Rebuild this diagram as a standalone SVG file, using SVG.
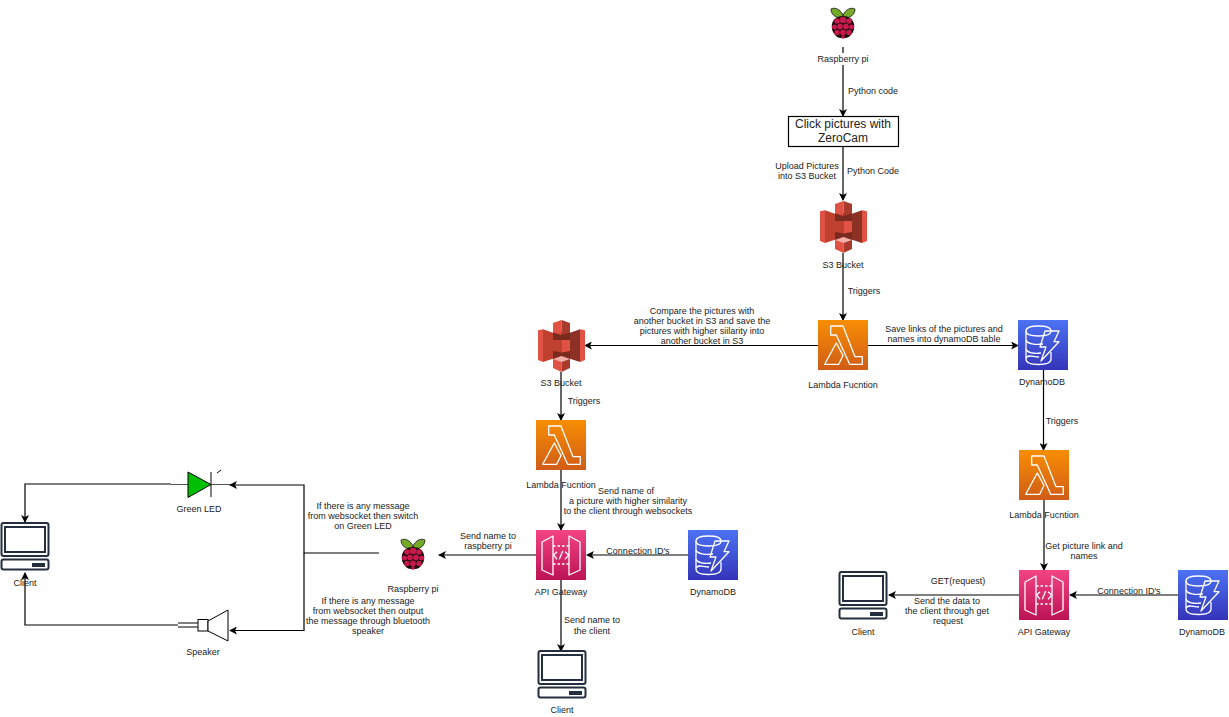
<svg xmlns="http://www.w3.org/2000/svg" width="1229" height="717" viewBox="0 0 1229 717">
<style>
text{font-family:"Liberation Sans",Arial,sans-serif;font-size:9px;fill:#222;text-anchor:middle}
.c{fill:none;stroke:#000;stroke-width:1.2}
.w{fill:none;stroke:#fff;stroke-width:1.3;stroke-linejoin:round}
.bg{fill:#fff}
.pc{fill:none;stroke:#232f3e;stroke-width:2}
.e{fill:none;stroke:#000;stroke-width:1}
</style>
<defs>
<marker id="a" markerWidth="8" markerHeight="8" refX="7" refY="4" orient="auto" markerUnits="userSpaceOnUse"><path d="M0 0L8 4L0 8L2 4Z" fill="#000"/></marker>
<linearGradient id="gl" x1="0" y1="0" x2="0" y2="1"><stop offset="0" stop-color="#f78e04"/><stop offset="1" stop-color="#d05c17"/></linearGradient>
<linearGradient id="gd" x1="0" y1="0" x2="0" y2="1"><stop offset="0" stop-color="#4d72f3"/><stop offset="1" stop-color="#3334b9"/></linearGradient>
<linearGradient id="ga" x1="0" y1="0" x2="0" y2="1"><stop offset="0" stop-color="#f34482"/><stop offset="1" stop-color="#bc1356"/></linearGradient>
<symbol id="lambda" viewBox="0 0 50 50" overflow="visible">
<rect width="50" height="50" fill="url(#gl)"/>
<path class="w" d="M12.700 6H25L37 36.700H44.300V44.300H31.700L18.300 15H12.700Z"/>
<path class="w" d="M18.300 23L25 35.500L20.700 44.300H6.700Z"/>
</symbol>
<symbol id="dynamo" viewBox="0 0 50 50" overflow="visible">
<rect width="50" height="50" fill="url(#gd)"/>
<path class="w" d="M8 11C8 7 14 6 20.500 6C27 6 33 7 33 11C33 15 27 16 20.500 16C14 16 8 15 8 11Z"/>
<path class="w" d="M8 11V39C8 43 14 44.500 20.500 44.500C27 44.500 33 43 33 39V32"/>
<path class="w" d="M8 20C9 24 18 25 25 24M8 29C9 33 17 34 23 33M8 38C10 34 15 37 21 37"/>
<path class="w" d="M27 11H41L36 21.700H41L23 41L28 27H22Z"/>
</symbol>
<symbol id="api" viewBox="0 0 50 50" overflow="visible">
<rect width="50" height="50" fill="url(#ga)"/>
<path class="w" d="M6 12L17 6V45L6 40ZM44 12L33 6V45L44 40Z"/>
<path class="w" stroke-dasharray="2.500 2" d="M17 16H33M17 34H33"/>
<path class="w" d="M21 21.700L17.700 25L21 29.300M29 21.700L32.700 25L29 29.300M26.700 21L23.300 29.300"/>
</symbol>
<symbol id="s3" viewBox="0 0 47 53" overflow="visible">
<path d="M15 13H32V40H15Z" fill="#7a2a1e"/>
<path d="M0 11.300L5 10.300V43L0 41Z" fill="#e05243"/>
<path d="M5 10.300L15 13.700V39.700L5 43Z" fill="#c0402f"/>
<path d="M47 11.300L42 10.300V43L47 41Z" fill="#e05243"/>
<path d="M42 10.300L32 13.700V39.700L42 43Z" fill="#8c3123"/>
<path d="M15 4L23.500 1V16L15 13.500Z" fill="#e05243"/>
<path d="M32 4L23.500 1V16L32 13.500Z" fill="#a93a2c"/>
<path d="M15 21H23.500V33.500L15 32Z" fill="#c0402f"/>
<path d="M32 21H23.500V33.500L32 32Z" fill="#e05243"/>
<path d="M15 40L23.500 37.500V53L15 49Z" fill="#e05243"/>
<path d="M32 40L23.500 37.500V53L32 49Z" fill="#a93a2c"/>
<path d="M15 40L23.500 37L32 40L23.500 43Z" fill="#f2b0a9"/>
</symbol>
<symbol id="pi" viewBox="0 0 28 34" overflow="visible">
<path d="M14 9C11 3 6 1 2 3C2 8 6 12 12 12ZM14 9C17 3 22 1 26 3C26 8 22 12 16 12Z" fill="#75a928" stroke="#111" stroke-width=".8"/>
<path d="M14 10C8 10 4 13 3 18C2 23 4 27 7 30C10 33 18 33 21 30C24 27 26 23 25 18C24 13 20 10 14 10Z" fill="#1a0a0e"/>
<g fill="#c51a4a"><circle cx="14" cy="14" r="3.300"/><circle cx="8" cy="15" r="2.800"/><circle cx="20" cy="15" r="2.800"/><circle cx="5.500" cy="21" r="2.500"/><circle cx="22.500" cy="21" r="2.500"/><circle cx="11" cy="20.500" r="2.900"/><circle cx="17" cy="20.500" r="2.900"/><circle cx="8" cy="26.500" r="2.700"/><circle cx="20" cy="26.500" r="2.700"/><circle cx="14" cy="26.500" r="2.900"/><circle cx="14" cy="31" r="1.700"/></g>
</symbol>
<symbol id="pc" viewBox="0 0 50 50" overflow="visible">
<rect class="pc" x="1.500" y="1" width="47" height="33" rx="2"/>
<rect class="pc" x="5" y="5" width="40" height="25"/>
<rect class="pc" x="1.500" y="37.500" width="47" height="10" rx="2"/>
<rect x="32" y="41" width="13" height="4" fill="#232f3e"/>
</symbol>
</defs>

<g id="connectors">
<path class="c" d="M843 47V116" marker-end="url(#a)"/>
<path class="c" d="M843 147V200" marker-end="url(#a)"/>
<path class="c" d="M843 253V320" marker-end="url(#a)"/>
<path class="c" d="M818 345.500H585" marker-end="url(#a)"/>
<path class="c" d="M868 345.500H1018" marker-end="url(#a)"/>
<path class="c" d="M1043.500 370V450" marker-end="url(#a)"/>
<path class="c" d="M1044 500V570" marker-end="url(#a)"/>
<path class="c" d="M561 372V420" marker-end="url(#a)"/>
<path class="c" d="M561 470V530" marker-end="url(#a)"/>
<path class="c" d="M536 555H439" marker-end="url(#a)"/>
<path class="c" d="M688 555H587" marker-end="url(#a)"/>
<path class="c" d="M561 580V651" marker-end="url(#a)"/>
<path class="c" d="M1178 595H1070" marker-end="url(#a)"/>
<path class="c" d="M1019 595H889" marker-end="url(#a)"/>
<path class="c" d="M379 553H304V485H230" marker-end="url(#a)"/>
<path class="c" d="M304 553V630.500H230" marker-end="url(#a)"/>
<path class="c" d="M171 484H25V522" marker-end="url(#a)"/>
<path class="c" d="M178 625H25V573" marker-end="url(#a)"/>
</g>

<g id="rpi-top"><use href="#pi" x="829" y="6" width="28" height="34"/><rect class="bg" x="816" y="53" width="54" height="12"/><text x="843" y="62">Raspberry pi</text></g>
<g id="zerocam"><rect x="788.500" y="116.500" width="110" height="30" fill="#fff" stroke="#000" stroke-width="1.200"/><text x="843" y="128" style="font-size:12px">Click pictures with</text><text x="843" y="142" style="font-size:12px">ZeroCam</text></g>
<g id="s3-top"><use href="#s3" x="820" y="200" width="47" height="53"/><text x="843" y="268">S3 Bucket</text></g>
<g id="lambda-1"><use href="#lambda" x="818" y="320" width="50" height="50"/><text x="843" y="388">Lambda Fucntion</text></g>
<g id="dynamo-1"><use href="#dynamo" x="1018" y="320" width="50" height="50"/><text x="1042" y="385">DynamoDB</text></g>
<g id="s3-2"><use href="#s3" x="538" y="319" width="47" height="53"/><text x="561" y="386">S3 Bucket</text></g>
<g id="lambda-2"><use href="#lambda" x="536" y="420" width="50" height="50"/><text x="561" y="488">Lambda Fucntion</text></g>
<g id="lambda-3"><use href="#lambda" x="1019" y="450" width="50" height="50"/><text x="1044" y="518">Lambda Fucntion</text></g>
<g id="api-1"><use href="#api" x="536" y="530" width="50" height="50"/><text x="561" y="595">API Gateway</text></g>
<g id="dynamo-2"><use href="#dynamo" x="688" y="530" width="50" height="50"/><text x="713" y="595">DynamoDB</text></g>
<g id="api-2"><use href="#api" x="1019" y="570" width="50" height="50"/><text x="1044" y="635">API Gateway</text></g>
<g id="dynamo-3"><use href="#dynamo" x="1178" y="570" width="50" height="50"/><text x="1202" y="635">DynamoDB</text></g>
<g id="client-1"><use href="#pc" x="0" y="522" width="50" height="50"/><text x="25" y="586">Client</text></g>
<g id="client-2"><use href="#pc" x="537" y="650" width="50" height="50"/><text x="562" y="713">Client</text></g>
<g id="client-3"><use href="#pc" x="838" y="571" width="50" height="50"/><text x="863" y="635">Client</text></g>
<g id="rpi-2"><use href="#pi" x="399" y="537" width="28" height="34"/><text x="413" y="592">Raspberry pi</text></g>
<g id="green-led"><path d="M171 484.500H188M211 484.500H230" stroke="#555" fill="none"/><path d="M188 472V497.500L211 484.500Z" fill="#00bf00" stroke="#000"/><path class="e" d="M211 472V497"/><path class="e" d="M217 473L221 470"/><text x="199" y="512">Green LED</text></g>
<g id="speaker"><path class="e" d="M178 623H198M178 627H198"/><rect class="e" style="fill:#fff" x="198" y="619.500" width="10" height="11.500"/><path class="e" style="fill:#fff" d="M208 621L228 610V641L208 631Z"/><text x="203" y="655">Speaker</text></g>

<g id="labels">
<text x="873" y="94">Python code</text>
<rect class="bg" x="772" y="160" width="70" height="22"/>
<text x="807" y="169">Upload Pictures</text><text x="807" y="179">into S3 Bucket</text>
<rect class="bg" x="845" y="165" width="56" height="12"/>
<text x="873" y="174">Python Code</text>
<text x="864" y="294">Triggers</text>
<rect class="bg" x="640" y="307" width="130" height="38"/>
<text x="702" y="314">Compare the pictures with</text>
<text x="702" y="324">another bucket in S3 and save the</text>
<text x="702" y="334">pictures with higher siilarity into</text>
<text x="702" y="344">another bucket in S3</text>
<text x="944" y="332">Save links of the pictures and</text>
<text x="944" y="342">names into dynamoDB table</text>
<text x="1062" y="424">Triggers</text>
<text x="584" y="404">Triggers</text>
<text x="626" y="494">Send name of</text>
<text x="628" y="504">a picture with higher similarity</text>
<text x="628" y="514">to the client through websockets</text>
<text x="1084" y="549">Get picture link and</text>
<text x="1084" y="559">names</text>
<text x="488" y="539">Send name to</text>
<text x="488" y="549">raspberry pi</text>
<text x="638" y="554">Connection ID's</text>
<text x="1129" y="594">Connection ID's</text>
<text x="958" y="584">GET(request)</text>
<rect class="bg" x="905" y="596" width="90" height="30"/>
<text x="947" y="604">Send the data to</text>
<text x="947" y="614">the client through get</text>
<text x="948" y="624">request</text>
<text x="592" y="623">Send name to</text>
<text x="592" y="634">the client</text>
<text x="363" y="509">If there is any message</text>
<text x="363" y="519">from websocket then switch</text>
<text x="363" y="529">on Green LED</text>
<rect class="bg" x="305" y="597" width="120" height="40"/>
<text x="368" y="604">If there is any message</text>
<text x="368" y="614">from websocket then output</text>
<text x="368" y="624">the message through bluetooth</text>
<text x="368" y="634">speaker</text>
</g>
</svg>
